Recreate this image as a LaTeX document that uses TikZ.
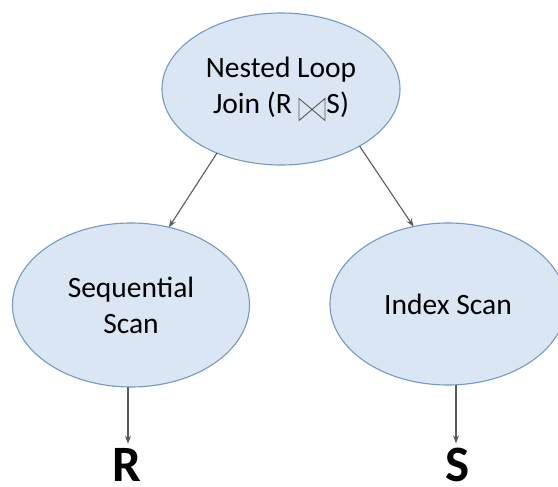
\documentclass[tikz,border=0pt]{standalone}
\usepackage{fontspec}
\setmainfont{Carlito}
\usetikzlibrary{shapes.geometric,arrows.meta}
\definecolor{ellfill}{HTML}{DAE6F4}
\definecolor{elldraw}{HTML}{7399C4}
\definecolor{arr}{HTML}{5A5A5A}
\newcommand{\joinsym}{\tikz[x=1pt,y=1pt,baseline=7pt]\draw[line width=0.9pt, draw=black!65, line join=miter] (0,0) -- (0,22) -- (26,0) -- (26,22) -- cycle;}
\tikzset{
  opnode/.style={ellipse, draw=elldraw, fill=ellfill, line width=1.1pt,
    inner sep=0pt, outer sep=0pt, font=\fontsize{29.5}{36}\selectfont, align=center},
  conn/.style={draw=arr, line width=1.1pt, -{Stealth[length=8pt,width=6pt]}},
  rel/.style={font=\fontsize{51}{55}\selectfont\bfseries, inner sep=0pt, anchor=base}
}
\begin{document}
\begin{tikzpicture}[x=1pt,y=-1pt]
\useasboundingbox (0,0) rectangle (558,487);
\clip (0,0) rectangle (558,487);
\node[opnode, minimum width=238pt, minimum height=152pt] (nlj) at (281,89)
  {Nested Loop\\Join (R \joinsym\hspace{1pt}S)};
\node[opnode, minimum width=237pt, minimum height=164pt] (seq) at (131,305)
  {Sequential\\Scan};
\node[opnode, minimum width=236pt, minimum height=162pt] (idx) at (448,304)
  {Index Scan};
\node[rel] (r) at (127,481) {R};
\node[rel] (s) at (458,481) {S};
\draw[conn] (nlj.225) -- (seq.64);
\draw[conn] (nlj.-36) -- (idx.114);
\draw[conn] (seq.south) ++(-3pt,0) coordinate (sb) -- ([yshift=4pt]sb |- r.north);
\draw[conn] (idx.south) ++(8pt,0) coordinate (ib) -- ([yshift=4pt]ib |- s.north);
\end{tikzpicture}
\end{document}
